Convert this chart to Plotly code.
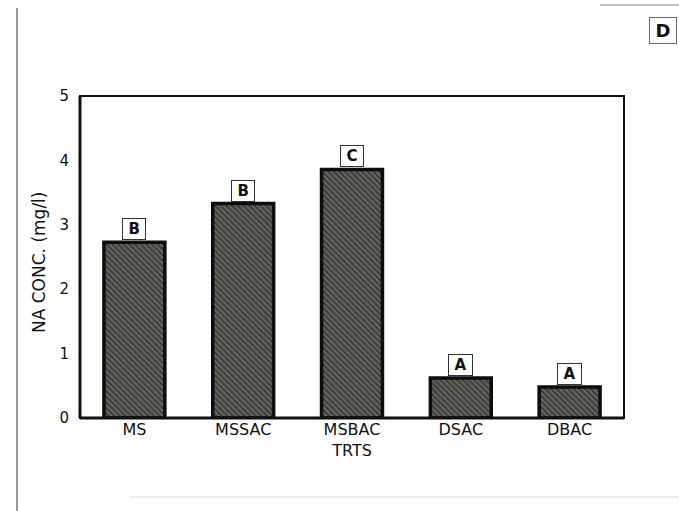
import plotly.graph_objects as go

# Sodium alginate concentration by treatment
treatments = ["MS", "MSSAC", "MSBAC<br>TRTS", "DSAC", "DBAC"]
na_conc = [2.73, 3.33, 3.86, 0.62, 0.48]
groups = ["B", "B", "C", "A", "A"]

L, R, T, B = 80, 624, 96, 418
W, H = 679, 511
FONT = "DejaVu Sans, Arial"
PAD = "\u2009\u200a"


def px(x):
    return (x - L) / (R - L)


def py(y):
    return (B - y) / (B - T)


fig = go.Figure()
fig.add_trace(go.Bar(
    x=treatments,
    y=na_conc,
    width=0.56,
    marker=dict(
        color="#3f3f3b",
        line=dict(color="#0d0d0d", width=3.5),
        pattern=dict(shape="\\", fgcolor="#a9a9a0", size=4, solidity=0.35),
    ),
    showlegend=False,
))

for cat, val, g in zip(treatments, na_conc, groups):
    fig.add_annotation(
        x=cat, y=val, text=f"<b>{PAD}{g}{PAD}</b>", showarrow=False,
        yanchor="bottom", xanchor="center", yshift=2,
        font=dict(family=FONT, size=15, color="#111"),
        bordercolor="#333", borderwidth=1, borderpad=1, bgcolor="white",
    )

# panel letter
fig.add_annotation(
    x=px(663), y=py(31), xref="paper", yref="paper", text="<b>\u2009D\u2009</b>",
    xanchor="center", yanchor="middle",
    showarrow=False, font=dict(family=FONT, size=18, color="#111"),
    bordercolor="#666", borderwidth=1, borderpad=2, bgcolor="white",
)

# axis title placed as rotated text
fig.add_annotation(
    x=px(39), y=py(263), xref="paper", yref="paper", text="NA CONC. (mg/l)",
    textangle=-90, xanchor="center", yanchor="middle", showarrow=False,
    font=dict(family=FONT, size=17, color="#111"),
)

shapes = [
    # plot frame
    dict(type="rect", xref="paper", yref="paper", x0=0, x1=1, y0=0, y1=1,
         line=dict(color="#111", width=2)),
    dict(type="line", xref="paper", yref="paper", x0=0, x1=0, y0=0, y1=1,
         line=dict(color="#111", width=3)),
    dict(type="line", xref="paper", yref="paper", x0=0, x1=1, y0=0, y1=0,
         line=dict(color="#111", width=3)),
    # page edge lines
    dict(type="line", xref="paper", yref="paper", x0=px(17), x1=px(17),
         y0=py(8), y1=py(511), line=dict(color="#777", width=1.5)),
    dict(type="line", xref="paper", yref="paper", x0=px(600), x1=px(679),
         y0=py(5), y1=py(5), line=dict(color="#aaa", width=1.5)),
    dict(type="line", xref="paper", yref="paper", x0=px(130), x1=px(679),
         y0=py(497), y1=py(497), line=dict(color="#ddd", width=1)),
]

fig.update_layout(
    width=W, height=H,
    margin=dict(l=L, r=W - R, t=T, b=H - B),
    paper_bgcolor="white", plot_bgcolor="white",
    shapes=shapes,
    font=dict(family=FONT, size=16, color="#111"),
    xaxis=dict(
        range=[-0.5, 4.5], showgrid=False, showline=False, ticks="",
        tickfont=dict(family=FONT, size=16, color="#111"),
    ),
    yaxis=dict(
        range=[0, 5], dtick=1, showgrid=False, zeroline=False, showline=False,
        ticks="", ticklabelstandoff=10,
        tickfont=dict(family=FONT, size=15, color="#111"),
    ),
)

fig.write_html("out.html")
